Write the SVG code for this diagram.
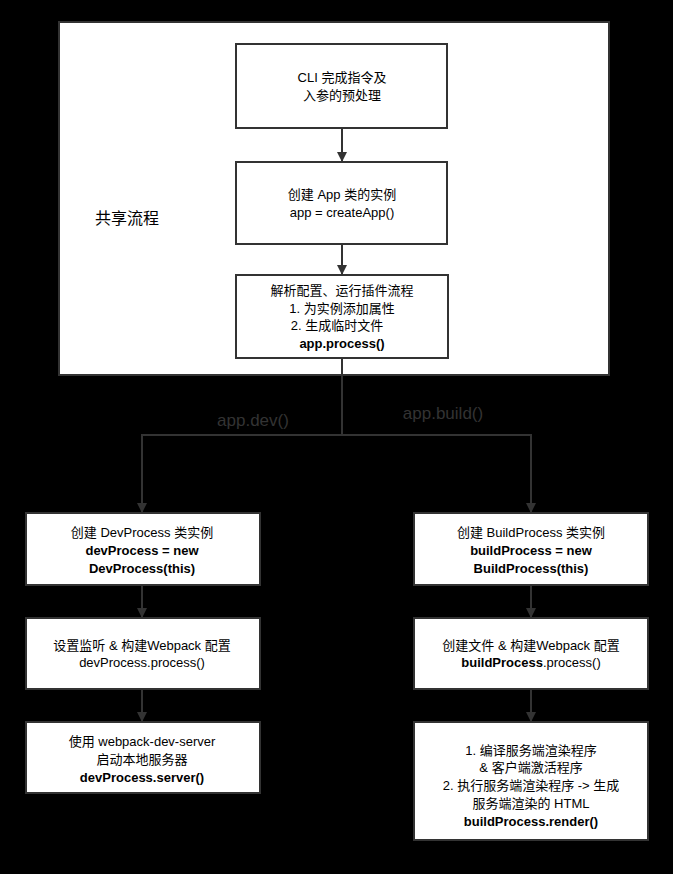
<svg xmlns="http://www.w3.org/2000/svg" width="673" height="874" viewBox="0 0 673 874">
<defs><marker id="a" viewBox="0 0 10 10" refX="9" refY="5" markerWidth="10" markerHeight="10" markerUnits="userSpaceOnUse" orient="auto"><path d="M0,0L10,5L0,10z" fill="#333"/></marker></defs>
<style>
.b{fill:#fff;stroke:#333;stroke-width:2}
text{font-family:"Liberation Sans","Noto Sans CJK SC",sans-serif;font-size:13px;fill:#000;text-anchor:middle}
.k{font-weight:bold}
.c{stroke:#333;stroke-width:2;fill:none}
.l{fill:#333;font-size:17px}
</style>
<rect width="673" height="874" fill="#000"/>
<g id="shared"><rect class="b" x="59" y="22" width="550" height="353"/><text x="127" y="224" style="font-size:16px">共享流程</text></g>
<g id="n1"><rect class="b" x="236" y="44" width="211" height="84"/><text x="342" y="82">CLI 完成指令及</text><text x="342" y="100">入参的预处理</text></g>
<g id="n2"><rect class="b" x="236" y="162" width="211" height="82"/><text x="342" y="199">创建 App 类的实例</text><text x="342" y="217">app = createApp()</text></g>
<g id="n3"><rect class="b" x="236" y="275" width="212" height="83"/><text x="342" y="295">解析配置、运行插件流程</text><text x="342" y="313">1. 为实例添加属性</text><text x="337" y="330">2. 生成临时文件</text><text class="k" x="342" y="348">app.process()</text></g>
<g id="l1"><rect class="b" x="26" y="513" width="234" height="72"/><text x="142" y="537">创建 DevProcess 类实例</text><text class="k" x="142" y="555">devProcess = new</text><text class="k" x="142" y="573">DevProcess(this)</text></g>
<g id="l2"><rect class="b" x="26" y="618" width="234" height="71"/><text x="142" y="650">设置监听 &amp; 构建Webpack 配置</text><text x="142" y="667">devProcess.process()</text></g>
<g id="l3"><rect class="b" x="26" y="722" width="234" height="71"/><text x="142" y="746">使用 webpack-dev-server</text><text x="142" y="764">启动本地服务器</text><text class="k" x="142" y="782">devProcess.server()</text></g>
<g id="r1"><rect class="b" x="414" y="513" width="234" height="72"/><text x="531" y="537">创建 BuildProcess 类实例</text><text class="k" x="531" y="555">buildProcess = new</text><text class="k" x="531" y="573">BuildProcess(this)</text></g>
<g id="r2"><rect class="b" x="414" y="618" width="234" height="71"/><text x="531" y="650">创建文件 &amp; 构建Webpack 配置</text><text x="531" y="667"><tspan class="k">buildProcess</tspan>.process()</text></g>
<g id="r3"><rect class="b" x="414" y="722" width="234" height="118"/><text x="531" y="755">1. 编译服务端渲染程序</text><text x="531" y="772">&amp; 客户端激活程序</text><text x="531" y="790">2. 执行服务端渲染程序 -&gt; 生成</text><text x="531" y="808">服务端渲染的 HTML</text><text class="k" x="531" y="826">buildProcess.render()</text></g>
<g id="connectors">
<path class="c" d="M342,128V161" marker-end="url(#a)"/>
<path class="c" d="M342,244V274" marker-end="url(#a)"/>
<path class="c" d="M342,358V435H142V512" marker-end="url(#a)"/>
<path class="c" d="M342,435H531V512" marker-end="url(#a)"/>
<path class="c" d="M142,585V617" marker-end="url(#a)"/>
<path class="c" d="M142,689V721" marker-end="url(#a)"/>
<path class="c" d="M531,585V617" marker-end="url(#a)"/>
<path class="c" d="M531,689V721" marker-end="url(#a)"/>
<text class="l" x="253" y="426">app.dev()</text>
<text class="l" x="443" y="419">app.build()</text>
</g>
</svg>
